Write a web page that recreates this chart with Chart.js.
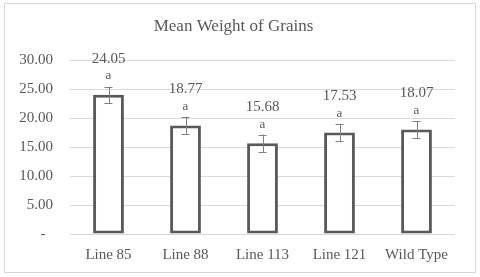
<!DOCTYPE html>
<html><head><meta charset="utf-8">
<script src="https://cdn.jsdelivr.net/npm/chart.js@4"></script>
<style>html,body{margin:0;padding:0;background:#fff}#wrap{width:480px;height:277px}</style>
</head><body><div id="wrap"><canvas id="c" width="480" height="277"></canvas></div>
<script>
const categories = ['Line 85', 'Line 88', 'Line 113', 'Line 121', 'Wild Type'];
const meanValues = [24.05, 18.77, 15.68, 17.53, 18.07];
const errorValues = [1.4, 1.45, 1.5, 1.5, 1.5];
const groupLetters = ['a', 'a', 'a', 'a', 'a'];
const yTicks = [0, 5, 10, 15, 20, 25, 30];

const FONT = "'Liberation Serif', 'Times New Roman', serif";
const TXT = '#595959';

const extras = {
  id: 'extras',
  beforeDraw(chart) {
    const ctx = chart.ctx;
    ctx.save();
    ctx.strokeStyle = '#d9d9d9';
    ctx.lineWidth = 1;
    ctx.strokeRect(4.5, 3.5, 471, 269);
    ctx.restore();
  },
  afterDatasetsDraw(chart) {
    const ctx = chart.ctx;
    const meta = chart.getDatasetMeta(0);
    const y = chart.scales.y;
    ctx.save();
    meta.data.forEach((bar, i) => {
      const x = bar.x;
      const yt = y.getPixelForValue(meanValues[i] + errorValues[i]);
      const yb = y.getPixelForValue(meanValues[i] - errorValues[i]);
      ctx.strokeStyle = '#7f7f7f';
      ctx.lineWidth = 1;
      ctx.beginPath();
      ctx.moveTo(Math.round(x) + 0.5, yt); ctx.lineTo(Math.round(x) + 0.5, yb);
      ctx.moveTo(x - 4, Math.round(yt) + 0.5); ctx.lineTo(x + 4, Math.round(yt) + 0.5);
      ctx.moveTo(x - 4, Math.round(yb) + 0.5); ctx.lineTo(x + 4, Math.round(yb) + 0.5);
      ctx.stroke();
      ctx.fillStyle = TXT;
      ctx.textAlign = 'center';
      ctx.textBaseline = 'middle';
      const top = y.getPixelForValue(meanValues[i]);
      ctx.font = '15px ' + FONT;
      ctx.fillText(meanValues[i].toFixed(2), x, top - 36);
      ctx.font = '13px ' + FONT;
      ctx.fillText(groupLetters[i], x, top - 19);
    });
    ctx.restore();
  }
};

new Chart(document.getElementById('c'), {
  type: 'bar',
  plugins: [extras],
  data: {
    labels: categories,
    datasets: [{
      data: meanValues,
      backgroundColor: '#ffffff',
      borderColor: '#595959',
      borderWidth: 3,
      borderSkipped: false,
      barPercentage: 0.8,
      categoryPercentage: 0.5
    }]
  },
  options: {
    responsive: false,
    animation: false,
    events: [],
    layout: { padding: { left: 12, right: 25, top: 0, bottom: 9 } },
    plugins: {
      legend: { display: false },
      tooltip: { enabled: false },
      title: {
        display: true,
        text: 'Mean Weight of Grains',
        color: TXT,
        font: { family: FONT, size: 17, weight: 'normal' },
        padding: { top: 16, bottom: 24 }
      }
    },
    scales: {
      x: {
        grid: { display: false },
        border: { display: false },
        ticks: { color: TXT, font: { family: FONT, size: 15 }, padding: 4 }
      },
      y: {
        min: 0, max: 30,
        afterBuildTicks(s) { s.ticks = yTicks.map(v => ({ value: v })); },
        afterFit(s) { s.width = 58; },
        grid: { color: '#d9d9d9', lineWidth: 1, drawTicks: false },
        border: { display: false },
        ticks: {
          color: TXT, font: { family: FONT, size: 15 }, padding: 17,
          callback: v => v === 0 ? '-  ' : v.toFixed(2)
        }
      }
    }
  }
});
</script></body></html>
